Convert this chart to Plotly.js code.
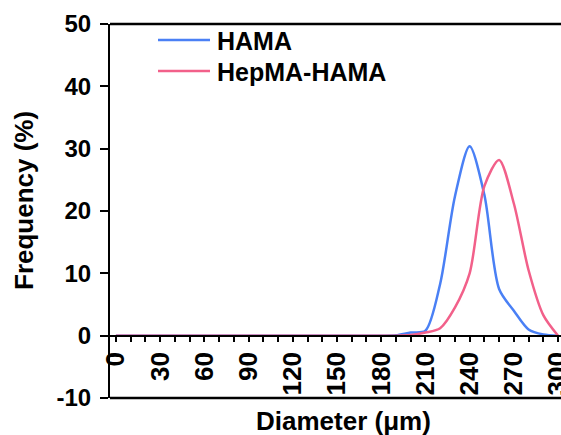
<!DOCTYPE html>
<html>
<head>
<meta charset="utf-8">
<script src="https://cdn.plot.ly/plotly-3.0.1.min.js"></script>
<style>html,body{margin:0;padding:0;background:#fff;}#chart{width:561px;height:435px;}</style>
</head>
<body>
<div id="chart"></div>
<script>
const diameter = [0,10,20,30,40,50,60,70,80,90,100,110,120,130,140,150,160,170,180,190,200,210,220,230,240,250,260,270,280,290,300];
const hama =     [0,0,0,0,0,0,0,0,0,0,0,0,0,0,0,0,0,0,0,0.05,0.5,0.8,8.3,22.3,30.4,22.6,7.5,4.0,1.0,0.2,0];
const hepmaHama =[0,0,0,0,0,0,0,0,0,0,0,0,0,0,0,0,0,0,0,0,0.1,0.5,1.2,4.5,10.0,24.0,28.2,21.2,10.5,3.3,0];
const seriesNames = ['HAMA','HepMA-HAMA'];
const seriesColors = ['#4a80f5','#f2608a'];
const xTickVals = [0,30,60,90,120,150,180,210,240,270,300];
const yTickVals = [-10,0,10,20,30,40,50];
const yTickText = ['-10','0','10','20','30','40','50'];

const font = 'Arial, "Liberation Sans", sans-serif';
const traces = [
  {x: diameter, y: hama, name: seriesNames[0], mode: 'lines', line: {color: seriesColors[0], width: 2.5, shape: 'spline', smoothing: 0.8}},
  {x: diameter, y: hepmaHama, name: seriesNames[1], mode: 'lines', line: {color: seriesColors[1], width: 2.5, shape: 'spline', smoothing: 0.8}}
];

// plot area in pixels: left 110, width 451, top 24, height 374
const px = p => (p - 110) / 451;
const py = q => (398 - q) / 374;
const legendRows = [40, 71];

const shapes = [
  {type: 'line', xref: 'paper', yref: 'paper', x0: 0, x1: 1.01, y0: 1, y1: 1, line: {color: '#000', width: 2.5}},
  {type: 'line', xref: 'paper', yref: 'paper', x0: 0, x1: 1.01, y0: 0, y1: 0, line: {color: '#000', width: 2.5}}
];
const annotations = [
  {text: 'Frequency (%)', xref: 'paper', yref: 'paper', x: px(24), y: py(201), textangle: -90, showarrow: false,
   xanchor: 'center', yanchor: 'middle', font: {family: font, size: 26, weight: 'bold', color: '#000'}},
  {text: 'Diameter (μm)', xref: 'paper', yref: 'paper', x: px(343.5), y: py(421), showarrow: false,
   xanchor: 'center', yanchor: 'middle', font: {family: font, size: 26, weight: 'bold', color: '#000'}}
];
seriesNames.forEach((n, i) => {
  shapes.push({type: 'line', xref: 'paper', yref: 'paper', x0: px(158), x1: px(210), y0: py(legendRows[i]), y1: py(legendRows[i]),
               line: {color: seriesColors[i], width: 2.5}});
  annotations.push({text: n, xref: 'paper', yref: 'paper', x: px(215), y: py(legendRows[i] + 1.5), showarrow: false,
                    xanchor: 'left', yanchor: 'middle', font: {family: font, size: 25, weight: 'bold', color: '#000'}});
});

const layout = {
  width: 561, height: 435,
  margin: {l: 110, r: 0, t: 24, b: 37},
  paper_bgcolor: '#fff', plot_bgcolor: '#fff',
  font: {family: font, size: 22, color: '#000'},
  showlegend: false,
  xaxis: {
    range: [-4, 302], anchor: 'free', position: 10/60,
    showline: true, linecolor: '#000', linewidth: 2,
    tickmode: 'array', tickvals: xTickVals, ticks: 'outside', ticklen: 5, tickwidth: 2, tickcolor: '#000',
    minor: {dtick: 10, tick0: 0, ticks: 'outside', ticklen: 5, tickwidth: 2, tickcolor: '#000'},
    tickangle: -90, tickfont: {family: font, size: 26, weight: 'bold'},
    ticklabeloverflow: 'allow',
    showgrid: false, zeroline: false
  },
  yaxis: {
    range: [-10, 50], tickmode: 'array', tickvals: yTickVals, ticktext: yTickText,
    showline: true, linecolor: '#000', linewidth: 2,
    ticks: 'outside', ticklen: 8, tickwidth: 2, tickcolor: '#000',
    ticklabelstandoff: 4,
    tickfont: {family: font, size: 24, weight: 'bold'},
    showgrid: false, zeroline: false
  },
  shapes: shapes,
  annotations: annotations
};
Plotly.newPlot('chart', traces, layout, {displayModeBar: false, staticPlot: true});
</script>
</body>
</html>
